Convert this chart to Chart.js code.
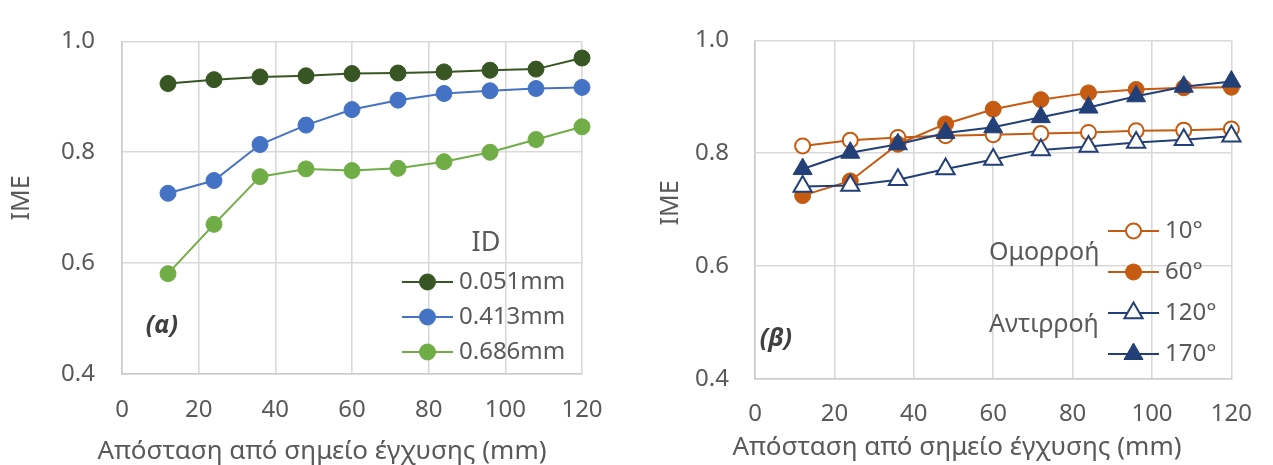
<!DOCTYPE html>
<html>
<head>
<meta charset="utf-8">
<script src="https://cdn.jsdelivr.net/npm/chart.js@4.4.1/dist/chart.umd.min.js"></script>
<style>
  html, body { margin: 0; padding: 0; background: #fff; }
  #wrap { position: relative; width: 1273px; height: 465px; }
  .panel { position: absolute; top: 0; height: 465px; }
  #left { left: 0; width: 636px; }
  #right { left: 636px; width: 637px; }
</style>
</head>
<body>
<div id="wrap">
  <div class="panel" id="left"><canvas id="chartA" width="636" height="465"></canvas></div>
  <div class="panel" id="right"><canvas id="chartB" width="637" height="465"></canvas></div>
</div>
<script>
// distance from the injection point (mm)
const distance = [12, 24, 36, 48, 60, 72, 84, 96, 108, 120];

// (α) IME per inner diameter
const idLabels = ["0.051mm", "0.413mm", "0.686mm"];
const ime051 = [0.924, 0.931, 0.936, 0.938, 0.942, 0.943, 0.945, 0.948, 0.950, 0.970];
const ime413 = [0.726, 0.749, 0.814, 0.849, 0.877, 0.894, 0.906, 0.911, 0.915, 0.917];
const ime686 = [0.581, 0.670, 0.756, 0.770, 0.767, 0.771, 0.783, 0.800, 0.823, 0.846];

// (β) IME per injection angle
const angleLabels = ["10°", "60°", "120°", "170°"];
const ime10 = [0.813, 0.823, 0.828, 0.831, 0.833, 0.835, 0.837, 0.840, 0.841, 0.843];
const ime60 = [0.725, 0.751, 0.816, 0.852, 0.878, 0.895, 0.907, 0.913, 0.916, 0.917];
const ime120 = [0.741, 0.743, 0.753, 0.772, 0.789, 0.806, 0.812, 0.819, 0.824, 0.830];
const ime170 = [0.772, 0.801, 0.816, 0.836, 0.846, 0.864, 0.881, 0.901, 0.918, 0.927];

const xTicks = { min: 0, max: 120, step: 20 };
const yTicks = { min: 0.4, max: 1.0, step: 0.2 };

const FONT = '"Noto Sans", "DejaVu Sans", sans-serif';
const TEXT = "#595959";
const GRID = "#d9d9d9";

const toPoints = (vals) => distance.map((d, i) => ({ x: d, y: vals[i] }));

function series(label, vals, color, opt = {}) {
  return {
    label,
    data: toPoints(vals),
    borderColor: color,
    borderWidth: 2,
    pointStyle: opt.style || "circle",
    pointRadius: opt.radius || 8,
    pointHoverRadius: opt.radius || 8,
    pointBackgroundColor: opt.hollow ? "#ffffff" : color,
    pointBorderColor: color,
    pointBorderWidth: opt.hollow ? 2 : 1,
    order: opt.order || 0,
    tension: 0,
    clip: false,
  };
}

// free text + legend drawn inside the plot
const notes = {
  id: "notes",
  afterDraw(chart, args, opts) {
    const ctx = chart.ctx;
    ctx.save();
    ctx.textBaseline = "middle";
    for (const t of opts.texts || []) {
      ctx.font = t.font;
      ctx.fillStyle = t.color || TEXT;
      ctx.textAlign = t.align || "center";
      if (t.rotate) {
        ctx.save();
        ctx.translate(t.x, t.y);
        ctx.rotate(t.rotate);
        ctx.fillText(t.text, 0, 0);
        ctx.restore();
      } else {
        ctx.fillText(t.text, t.x, t.y);
      }
    }
    const lg = opts.legend;
    if (lg) {
      chart.data.datasets.forEach((ds, i) => {
        const y = lg.y + i * lg.gap;
        ctx.strokeStyle = ds.borderColor;
        ctx.lineWidth = ds.borderWidth;
        ctx.beginPath();
        ctx.moveTo(lg.x, y);
        ctx.lineTo(lg.x + lg.len, y);
        ctx.stroke();
        ctx.fillStyle = ds.pointBackgroundColor;
        ctx.strokeStyle = ds.pointBorderColor;
        ctx.lineWidth = ds.pointBorderWidth;
        Chart.helpers.drawPoint(ctx, {
          pointStyle: ds.pointStyle, radius: ds.pointRadius,
          borderWidth: ds.pointBorderWidth, rotation: 0,
        }, lg.x + lg.len / 2, y);
        ctx.fillStyle = TEXT;
        ctx.font = lg.font;
        ctx.textAlign = "left";
        ctx.fillText(ds.label, lg.x + lg.len + lg.pad, y);
      });
    }
    ctx.restore();
  },
};

function scales(yWidth, xHeight, yPad, xPad) {
  const tickFont = { family: FONT, size: 24 };
  return {
    x: {
      type: "linear", min: xTicks.min, max: xTicks.max,
      ticks: { stepSize: xTicks.step, padding: xPad, color: TEXT, font: tickFont },
      grid: { color: GRID, lineWidth: 1.6, drawTicks: false },
      border: { color: "#cccccc", width: 1.6 },
      afterFit: (s) => { s.height = xHeight; },
    },
    y: {
      min: yTicks.min, max: yTicks.max,
      ticks: { stepSize: yTicks.step, padding: yPad, color: TEXT, font: tickFont,
        callback: (v) => Number(v).toFixed(1) },
      grid: { color: GRID, lineWidth: 1.6, drawTicks: false },
      border: { color: "#cccccc", width: 1.6 },
      afterFit: (s) => { s.width = yWidth; },
    },
  };
}

const common = {
  responsive: false,
  animation: false,
  events: [],
  plugins: { legend: { display: false }, tooltip: { enabled: false } },
};

const xTitle = "Απόσταση από σημείο έγχυσης (mm)";

new Chart(document.getElementById("chartA"), {
  type: "line",
  data: {
    datasets: [
      series(idLabels[0], ime051, "#375623", { order: 3 }),
      series(idLabels[1], ime413, "#4472c4", { order: 2 }),
      series(idLabels[2], ime686, "#70ad47", { order: 1 }),
    ],
  },
  options: {
    ...common,
    layout: { padding: { top: 23, right: 54, left: 0, bottom: 0 } },
    scales: scales(122, 91, 27, 22),
    plugins: {
      ...common.plugins,
      notes: {
        texts: [
          { text: "IME", x: 22, y: 198, rotate: -Math.PI / 2, font: `25px ${FONT}` },
          { text: xTitle, x: 322, y: 452, font: `26px ${FONT}` },
          { text: "ID", x: 486, y: 243, font: `27px ${FONT}` },
          { text: "(α)", x: 162, y: 326, font: `italic bold 25px ${FONT}`, color: "#404040" },
        ],
        legend: { x: 402, y: 282, gap: 35, len: 51, pad: 6, font: `24px ${FONT}` },
      },
    },
  },
  plugins: [notes],
});

new Chart(document.getElementById("chartB"), {
  type: "line",
  data: {
    datasets: [
      series(angleLabels[0], ime10, "#c55a11", { hollow: true, radius: 7.5, order: 4 }),
      series(angleLabels[1], ime60, "#c55a11", { order: 3 }),
      series(angleLabels[2], ime120, "#223f77", { style: "triangle", hollow: true, radius: 10.5, order: 2 }),
      series(angleLabels[3], ime170, "#223f77", { style: "triangle", radius: 11, order: 1 }),
    ],
  },
  options: {
    ...common,
    layout: { padding: { top: 27, right: 24, left: 0, bottom: 0 } },
    scales: scales(119, 86, 26, 21),
    plugins: {
      ...common.plugins,
      notes: {
        texts: [
          { text: "IME", x: 35, y: 203, rotate: -Math.PI / 2, font: `25px ${FONT}` },
          { text: xTitle, x: 957 - 636, y: 448, font: `26px ${FONT}` },
          { text: "Ομορροή", x: 353, y: 253, align: "left", font: `25px ${FONT}` },
          { text: "Αντιρροή", x: 353, y: 325, align: "left", font: `25px ${FONT}` },
          { text: "(β)", x: 140, y: 339, font: `italic bold 25px ${FONT}`, color: "#404040" },
        ],
        legend: { x: 472, y: 231, gap: 41, len: 51, pad: 6, font: `24px ${FONT}` },
      },
    },
  },
  plugins: [notes],
});
</script>
</body>
</html>
